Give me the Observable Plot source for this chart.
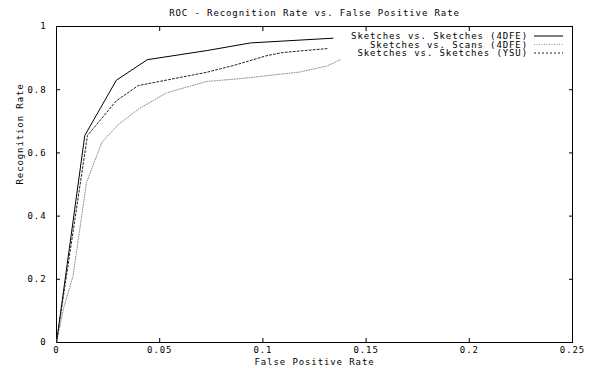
<!DOCTYPE html>
<html>
<head>
<meta charset="utf-8">
<script src="https://cdn.jsdelivr.net/npm/d3@7"></script>
<script src="https://cdn.jsdelivr.net/npm/@observablehq/plot@0.6"></script>
<style>
  body { margin: 0; background: #fff; }
  svg { font-family: "DejaVu Sans Mono", monospace; }
  svg text { letter-spacing: 0.9px; }
</style>
</head>
<body>
<div id="chart"></div>
<script>
const title = "ROC - Recognition Rate vs. False Positive Rate";
const xLabel = "False Positive Rate";
const yLabel = "Recognition Rate";
const xTicks = [0, 0.05, 0.1, 0.15, 0.2, 0.25];
const yTicks = [0, 0.2, 0.4, 0.6, 0.8, 1];
const seriesNames = ["Sketches vs. Sketches (4DFE)", "Sketches vs. Scans (4DFE)", "Sketches vs. Sketches (YSU)"];

const fpr4dfe = [0, 0.0137, 0.029, 0.044, 0.073, 0.094, 0.134];
const rr4dfe  = [0, 0.655, 0.83, 0.895, 0.924, 0.948, 0.963];

const fprScans = [0, 0.0035, 0.008, 0.0145, 0.022, 0.03, 0.04, 0.0533, 0.0727, 0.0907, 0.118, 0.131, 0.138];
const rrScans  = [0, 0.11, 0.21, 0.505, 0.634, 0.69, 0.74, 0.79, 0.826, 0.836, 0.856, 0.875, 0.896];

const fprYsu = [0, 0.015, 0.029, 0.0396, 0.0727, 0.086, 0.102, 0.110, 0.131];
const rrYsu  = [0, 0.655, 0.765, 0.813, 0.855, 0.877, 0.908, 0.918, 0.93];

const styles = [
  {stroke: "#000", dash: null},
  {stroke: "#909090", dash: "1,1.5"},
  {stroke: "#222", dash: "2,2"}
];

const toRows = (xs, ys, s) => xs.map((x, i) => ({x, y: ys[i], s}));
const rows = [
  ...toRows(fpr4dfe, rr4dfe, seriesNames[0]),
  ...toRows(fprScans, rrScans, seriesNames[1]),
  ...toRows(fprYsu, rrYsu, seriesNames[2])
];

const fmt = d => String(d);
const fs = 9;

const marks = [
  Plot.frame({stroke: "#000", strokeWidth: 1}),
  Plot.axisX({anchor: "bottom", ticks: xTicks, tickSize: -4, tickPadding: 8, tickFormat: fmt, label: null, fontSize: fs}),
  Plot.axisX({anchor: "top", ticks: xTicks, tickSize: -4, tickFormat: () => "", label: null}),
  Plot.axisY({anchor: "left", ticks: yTicks, tickSize: -4, tickPadding: 14, tickFormat: fmt, label: null, fontSize: fs}),
  Plot.axisY({anchor: "right", ticks: yTicks, tickSize: -4, tickFormat: () => "", label: null}),
  ...seriesNames.map((name, i) => Plot.line(rows.filter(r => r.s === name), {
    x: "x", y: "y", stroke: styles[i].stroke, strokeWidth: 1,
    strokeDasharray: styles[i].dash
  })),
  Plot.text([title], {text: d => d, frameAnchor: "top", dy: -17, fontSize: fs, fill: "#000"}),
  Plot.text([xLabel], {text: d => d, frameAnchor: "bottom", dy: 22, fontSize: fs, fill: "#000"}),
  Plot.text([yLabel], {text: d => d, frameAnchor: "left", dx: -36, rotate: -90, fontSize: fs, fill: "#000"})
];

const chart = Plot.plot({
  width: 597,
  height: 368,
  marginTop: 26,
  marginBottom: 26,
  marginLeft: 56,
  marginRight: 25,
  style: {fontFamily: "DejaVu Sans Mono, monospace", fontSize: fs + "px", background: "#fff", color: "#000"},
  x: {domain: [0, 0.25]},
  y: {domain: [0, 1]},
  marks
});
document.getElementById("chart").appendChild(chart);

// Legend (top right, inside the frame)
const svg = d3.select(chart);
const leg = svg.append("g").attr("font-size", fs).attr("font-family", "DejaVu Sans Mono, monospace");
const legTextRight = 528, legLineX1 = 534, legLineX2 = 563;
const legRowY = [36, 44.5, 53];
seriesNames.forEach((name, i) => {
  leg.append("text").attr("x", legTextRight).attr("y", legRowY[i])
    .attr("text-anchor", "end").attr("dy", "0.35em").attr("fill", "#000").text(name);
  leg.append("line").attr("x1", legLineX1).attr("x2", legLineX2)
    .attr("y1", legRowY[i]).attr("y2", legRowY[i])
    .attr("stroke", styles[i].stroke).attr("stroke-width", 1)
    .attr("stroke-dasharray", styles[i].dash);
});
</script>
</body>
</html>
